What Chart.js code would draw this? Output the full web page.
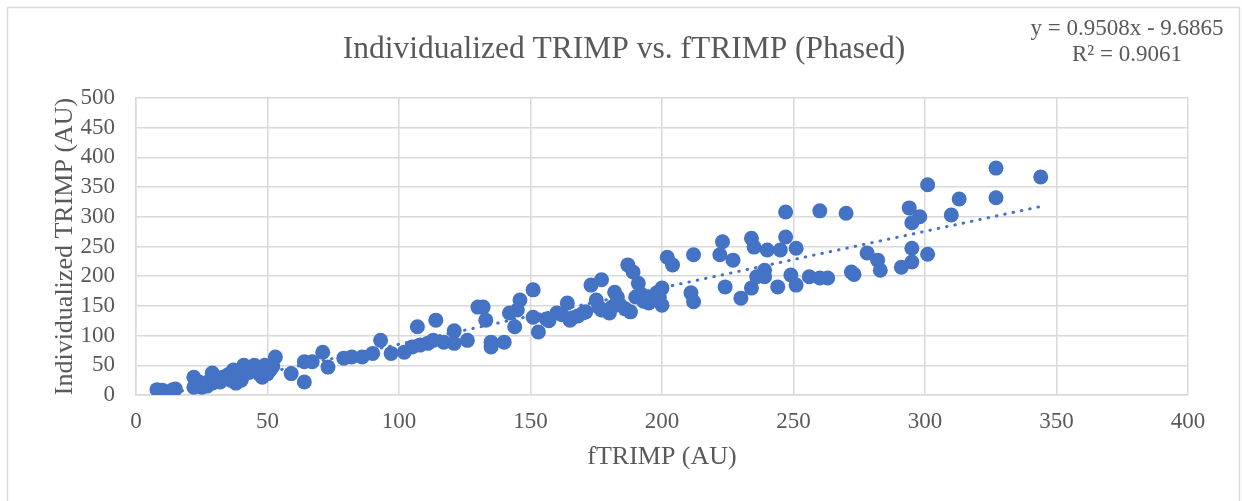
<!DOCTYPE html>
<html>
<head>
<meta charset="utf-8">
<script src="https://cdn.jsdelivr.net/npm/chart.js@4"></script>
<style>
  html, body { margin: 0; padding: 0; background: #fff; }
  canvas { display: block; }
</style>
</head>
<body>
<canvas id="trimpChart" width="1242" height="501"></canvas>
<script>
// 散布図: fTRIMP と個別化TRIMP

const fTrimp = [8, 10, 14, 15, 22, 22, 25, 26, 28, 29, 29, 31, 33, 35, 37, 38, 39, 40, 41, 43, 45, 46, 48, 49, 50, 51, 53, 59, 64, 64,
  67, 71, 73, 79, 82, 86, 90, 93, 97, 102, 105, 107, 108, 111, 114, 113, 117, 121, 121, 126, 130, 132, 133, 135, 135, 140, 142, 144, 146, 145,
  151, 151, 153, 156, 160, 164, 165, 168, 170, 173, 175, 177, 177, 180, 182, 181, 184, 187, 189, 188, 191, 190, 193, 195, 195, 198, 200, 200, 202, 204,
  212, 211, 212, 222, 223, 224, 227, 230, 234, 234, 235, 236, 239, 239, 240, 244, 245, 247, 247, 249, 251, 251, 256, 260, 260, 263, 270, 272, 273, 278,
  282, 283, 291, 294, 295, 295, 295, 298, 301, 301, 310, 313, 327, 327, 344, 44, 47, 52, 36, 32, 24, 27,
  157, 162, 166, 171, 176, 179, 186, 192, 196, 199, 183];
const iTrimp = [9, 8, 9, 10, 30, 13, 13, 18, 24, 37, 20, 28, 30, 34, 42, 20, 30, 25, 50, 38, 50, 42, 30, 50, 36, 42, 64, 36, 22, 56,
  56, 72, 47, 62, 64, 64, 70, 92, 70, 72, 81, 115, 84, 87, 126, 92, 89, 108, 87, 92, 148, 148, 126, 89, 81, 89, 138, 115, 160, 143,
  177, 131, 106, 128, 138, 155, 126, 133, 138, 185, 160, 194, 143, 138, 173, 148, 152, 219, 207, 140, 188, 165, 158, 155, 165, 172, 180, 151, 232, 219,
  236, 172, 157, 236, 258, 182, 227, 163, 180, 264, 249, 199, 210, 199, 244, 182, 244, 266, 308, 202, 185, 247, 199, 197, 310, 197, 306, 207, 203, 239,
  227, 210, 215, 315, 290, 247, 224, 300, 354, 237, 303, 330, 382, 332, 367, 44, 35, 48, 25, 22, 22, 15,
  125, 135, 130, 140, 148, 142, 145, 170, 160, 165, 165];

// 近似直線 (Excelの表示式)
const slope = 0.9508;
const intercept = -9.6865;
const trendX = [8, 344];

const titleText = 'Individualized TRIMP vs. fTRIMP (Phased)';
const eqLines = ['y = 0.9508x - 9.6865', 'R\u00b2 = 0.9061'];

const serif = "'Liberation Serif', 'Times New Roman', serif";
const textColor = '#595959';
const gridColor = '#d9d9d9';

const points = fTrimp.map((x, i) => ({ x: x, y: iTrimp[i] }));
const trend = trendX.map(x => ({ x: x, y: slope * x + intercept }));

const decor = {
  id: 'decor',
  beforeDraw(chart) {
    const c = chart.ctx;
    c.save();
    c.fillStyle = '#ffffff';
    c.fillRect(0, 0, chart.width, chart.height);
    c.strokeStyle = gridColor;
    c.lineWidth = 1.5;
    c.strokeRect(7.5, 7.5, 1232, 500);
    c.restore();
  },
  afterDraw(chart) {
    const c = chart.ctx;
    c.save();
    c.fillStyle = textColor;
    c.textAlign = 'center';
    c.textBaseline = 'middle';
    c.font = '31.5px ' + serif;
    c.fillText(titleText, 624, 50);
    c.font = '23px ' + serif;
    c.fillText(eqLines[0], 1127, 29);
    c.fillText(eqLines[1], 1127, 55);
    c.restore();
  }
};

const ctx = document.getElementById('trimpChart').getContext('2d');
new Chart(ctx, {
  type: 'scatter',
  data: {
    datasets: [
      {
        label: 'TRIMP',
        data: points,
        backgroundColor: '#4472C4',
        borderColor: '#4472C4',
        borderWidth: 0,
        pointRadius: 7.5,
        order: 1
      },
      {
        label: 'trend',
        data: trend,
        showLine: true,
        pointRadius: 0,
        borderColor: '#4472C4',
        borderWidth: 3,
        borderDash: [0.5, 8],
        borderCapStyle: 'round',
        order: 0
      }
    ]
  },
  options: {
    responsive: false,
    devicePixelRatio: 1,
    animation: false,
    layout: { padding: { left: 0, right: 54, top: 98, bottom: 0 } },
    plugins: {
      legend: { display: false },
      title: { display: false },
      tooltip: { enabled: false }
    },
    scales: {
      x: {
        min: 0, max: 400,
        ticks: { stepSize: 50, autoSkip: false, color: textColor, padding: 13, maxRotation: 0, font: { family: serif, size: 23 } },
        grid: { color: gridColor, lineWidth: 1.5, drawTicks: false },
        border: { color: gridColor, width: 1.5 },
        title: { display: true, text: 'fTRIMP (AU)', color: textColor, font: { family: serif, size: 26 }, padding: { top: 0, bottom: 28 } },
        afterFit(scale) { scale.height = 106; }
      },
      y: {
        min: 0, max: 500,
        ticks: { stepSize: 50, autoSkip: false, color: textColor, padding: 21, font: { family: serif, size: 23 } },
        grid: { color: gridColor, lineWidth: 1.5, drawTicks: false },
        border: { color: gridColor, width: 1.5 },
        title: { display: true, text: 'Individualized TRIMP (AU)', color: textColor, font: { family: serif, size: 26 }, padding: { top: 50, bottom: 0 } },
        afterFit(scale) { scale.width = 136; }
      }
    }
  },
  plugins: [decor]
});
</script>
</body>
</html>
